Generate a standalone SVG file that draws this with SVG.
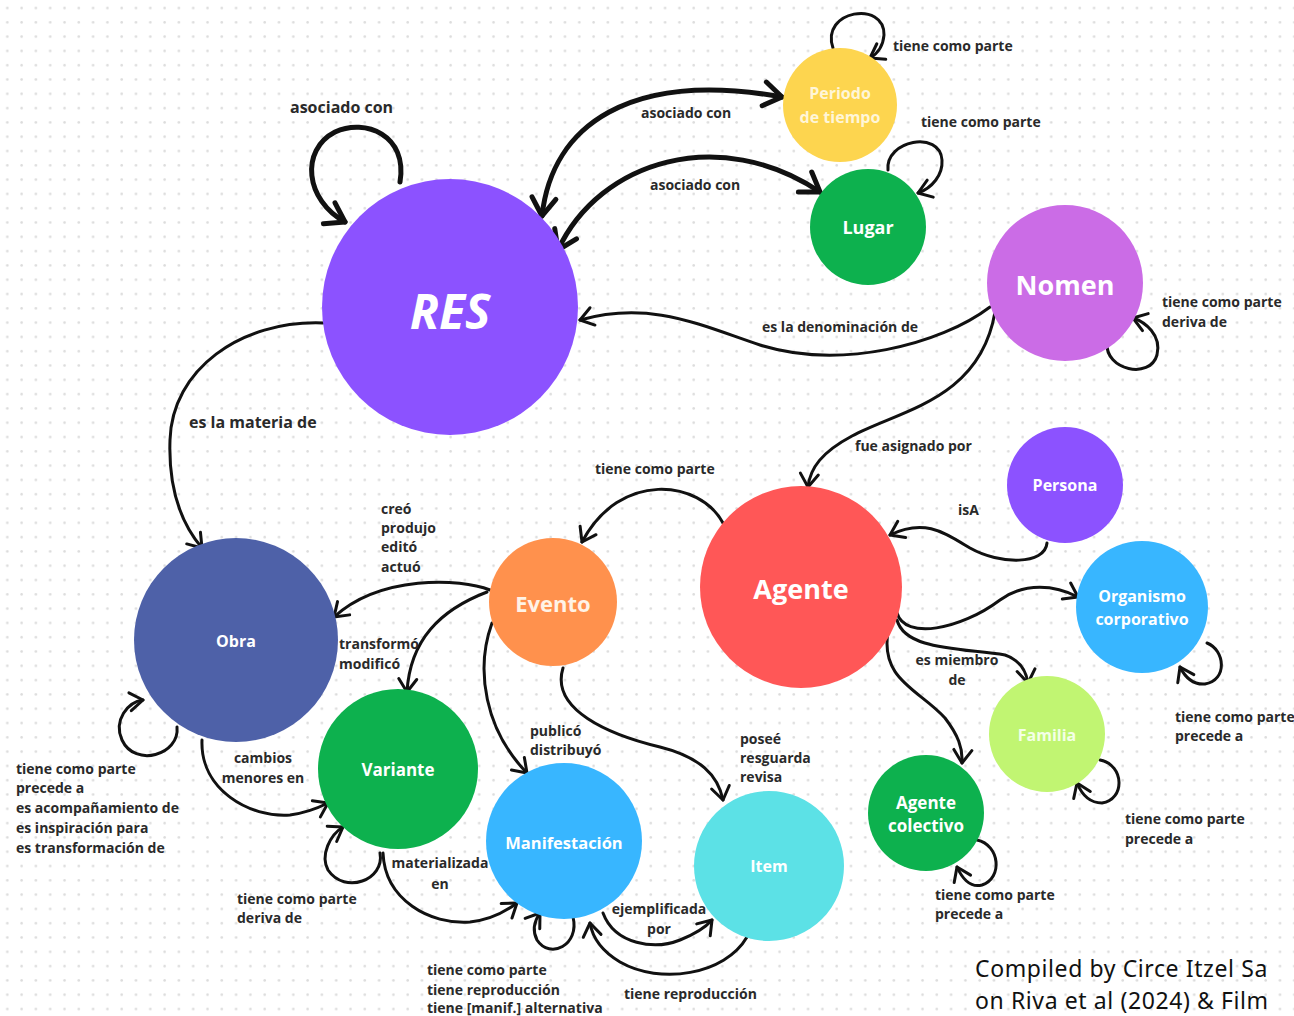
<svg xmlns="http://www.w3.org/2000/svg" width="1294" height="1016" viewBox="0 0 1294 1016">
  <defs>
    <pattern id="dots" patternUnits="userSpaceOnUse" x="0" y="0" width="14.3" height="14.3">
      <circle cx="7.3" cy="8" r="1.3" fill="#dcdcdc"/>
    </pattern>
    <marker id="arr" markerUnits="userSpaceOnUse" viewBox="-20 -15 24 30" markerWidth="24" markerHeight="30" refX="0" refY="0" orient="auto-start-reverse">
      <path d="M -13 -9 L 0 0 L -13 9" fill="none" stroke="#111" stroke-width="3" stroke-linecap="round" stroke-linejoin="round"/>
    </marker>
    <marker id="arrBig" markerUnits="userSpaceOnUse" viewBox="-24 -18 28 36" markerWidth="28" markerHeight="36" refX="0" refY="0" orient="auto-start-reverse">
      <path d="M -18 -12 L 0 0 L -18 12" fill="none" stroke="#111" stroke-width="5" stroke-linecap="round" stroke-linejoin="round"/>
    </marker>
    <style>
      .lbl { font-family: "Open Sans", "Noto Sans", sans-serif; font-weight: 700; font-size: 14px; fill: #2a2a2a; }
      .nt { font-family: "Open Sans", "Noto Sans", sans-serif; font-weight: 700; fill: #ffffff; text-anchor: middle; dominant-baseline: central; }
      .c { fill: none; stroke: #111; stroke-width: 3; stroke-linecap: round; marker-end: url(#arr); }
      .cb { fill: none; stroke: #111; stroke-width: 5; stroke-linecap: round; marker-end: url(#arrBig); }
      .cap { font-family: "Noto Sans", "Open Sans", sans-serif; font-size: 23px; letter-spacing: 0.6px; fill: #111; }
    </style>
  </defs>

  <rect width="1294" height="1016" fill="#ffffff"/>
  <rect width="1294" height="1016" fill="url(#dots)"/>

  <!-- connectors -->
  <g id="connectors">
    <path class="cb" d="M 400 182 C 408 135, 365 118, 335 132 C 300 150, 305 200, 345 222"/>
    <path class="cb" style="marker-start:url(#arrBig)" d="M 542 216 C 552 125, 630 70, 782 97"/>
    <path class="cb" style="marker-start:url(#arrBig)" d="M 558 250 C 600 160, 720 125, 820 192"/>
    <path class="c" d="M 833 48 C 820 10, 885 0, 884 35 C 883 47, 877 54, 870 58"/>
    <path class="c" d="M 888 170 C 885 140, 940 130, 942 160 C 943 175, 932 188, 918 193"/>
    <path class="c" d="M 1107 343 C 1105 370, 1150 380, 1157 355 C 1162 335, 1145 322, 1133 318"/>
    <path class="c" d="M 990 307 C 940 345, 840 370, 760 345 C 700 325, 650 300, 580 320"/>
    <path class="c" d="M 995 312 C 980 400, 900 410, 852 436 C 822 452, 810 468, 808 487"/>
    <path class="c" d="M 323 323 C 240 320, 172 370, 170 440 C 168 495, 185 528, 202 548"/>
    <path class="c" d="M 723 523 C 700 480, 620 470, 582 542"/>
    <path class="c" d="M 1047 543 C 1045 565, 1000 565, 970 548 C 945 533, 925 518, 890 535"/>
    <path class="c" d="M 897 613 C 905 640, 960 630, 1000 600 C 1025 582, 1055 585, 1078 597"/>
    <path class="c" d="M 897 620 C 905 650, 960 648, 1005 655 C 1020 660, 1026 670, 1028 683"/>
    <path class="c" d="M 888 632 C 880 680, 920 690, 945 718 C 958 735, 963 748, 962 763"/>
    <path class="c" d="M 1207 643 C 1225 650, 1228 680, 1205 684 C 1192 685, 1185 677, 1180 667"/>
    <path class="c" d="M 1100 760 C 1125 765, 1125 800, 1102 803 C 1090 803, 1082 795, 1077 783"/>
    <path class="c" d="M 977 840 C 1000 845, 1003 878, 982 885 C 970 888, 962 878, 957 867"/>
    <path class="c" d="M 490 590 C 460 578, 380 575, 334 617"/>
    <path class="c" d="M 487 592 C 440 610, 410 640, 407 692"/>
    <path class="c" d="M 492 623 C 475 670, 485 730, 527 773"/>
    <path class="c" d="M 563 668 C 550 710, 610 735, 660 747 C 700 757, 718 775, 723 800"/>
    <path class="c" d="M 177 727 C 180 755, 135 768, 122 740 C 113 720, 128 702, 143 700"/>
    <path class="c" d="M 202 740 C 200 790, 250 818, 290 815 C 305 813, 318 808, 328 803"/>
    <path class="c" d="M 380 853 C 385 880, 345 895, 328 870 C 320 855, 330 835, 343 827"/>
    <path class="c" d="M 383 853 C 385 900, 430 925, 470 922 C 490 920, 505 912, 517 903"/>
    <path class="c" d="M 573 917 C 580 945, 550 960, 537 940 C 532 930, 535 920, 540 913"/>
    <path class="c" d="M 603 913 C 615 945, 655 950, 680 940 C 695 934, 705 928, 712 920"/>
    <path class="c" d="M 747 937 C 725 975, 660 985, 620 962 C 600 950, 592 935, 590 923"/>
  </g>

  <!-- connector labels -->
  <g id="labels">
    <text class="lbl" x="290" y="113" style="font-size:16px">asociado con</text>
    <text class="lbl" x="641" y="118">asociado con</text>
    <text class="lbl" x="650" y="190">asociado con</text>
    <text class="lbl" x="893" y="51">tiene como parte</text>
    <text class="lbl" x="921" y="127">tiene como parte</text>
    <text class="lbl" x="1162" y="307">tiene como parte</text>
    <text class="lbl" x="1162" y="327">deriva de</text>
    <text class="lbl" x="762" y="332">es la denominación de</text>
    <text class="lbl" x="189" y="428" style="font-size:16px">es la materia de</text>
    <text class="lbl" x="855" y="451">fue asignado por</text>
    <text class="lbl" x="595" y="474">tiene como parte</text>
    <text class="lbl" x="958" y="515">isA</text>
    <text class="lbl" x="381" y="514">creó</text>
    <text class="lbl" x="381" y="533">produjo</text>
    <text class="lbl" x="381" y="552">editó</text>
    <text class="lbl" x="381" y="572">actuó</text>
    <text class="lbl" x="339" y="649">transformó</text>
    <text class="lbl" x="339" y="669">modificó</text>
    <text class="lbl" x="957" y="665" text-anchor="middle">es miembro</text>
    <text class="lbl" x="957" y="685" text-anchor="middle">de</text>
    <text class="lbl" x="1175" y="722">tiene como parte</text>
    <text class="lbl" x="1175" y="741">precede a</text>
    <text class="lbl" x="263" y="763" text-anchor="middle">cambios</text>
    <text class="lbl" x="263" y="783" text-anchor="middle">menores en</text>
    <text class="lbl" x="16" y="774">tiene como parte</text>
    <text class="lbl" x="16" y="793">precede a</text>
    <text class="lbl" x="16" y="813">es acompañamiento de</text>
    <text class="lbl" x="16" y="833">es inspiración para</text>
    <text class="lbl" x="16" y="853">es transformación de</text>
    <text class="lbl" x="530" y="736">publicó</text>
    <text class="lbl" x="530" y="755">distribuyó</text>
    <text class="lbl" x="740" y="744">poseé</text>
    <text class="lbl" x="740" y="763">resguarda</text>
    <text class="lbl" x="740" y="782">revisa</text>
    <text class="lbl" x="1125" y="824">tiene como parte</text>
    <text class="lbl" x="1125" y="844">precede a</text>
    <text class="lbl" x="440" y="868" text-anchor="middle">materializada</text>
    <text class="lbl" x="440" y="889" text-anchor="middle">en</text>
    <text class="lbl" x="237" y="904">tiene como parte</text>
    <text class="lbl" x="237" y="923">deriva de</text>
    <text class="lbl" x="659" y="914" text-anchor="middle">ejemplificada</text>
    <text class="lbl" x="659" y="934" text-anchor="middle">por</text>
    <text class="lbl" x="935" y="900">tiene como parte</text>
    <text class="lbl" x="935" y="919">precede a</text>
    <text class="lbl" x="427" y="975">tiene como parte</text>
    <text class="lbl" x="427" y="995">tiene reproducción</text>
    <text class="lbl" x="427" y="1013">tiene [manif.] alternativa</text>
    <text class="lbl" x="624" y="999">tiene reproducción</text>
  </g>

  <!-- nodes -->
  <g id="node-res">
    <circle cx="450" cy="307" r="128" fill="#8c52ff"/>
    <text class="nt" x="450" y="310" style="font-size:48px;font-style:italic">RES</text>
  </g>
  <g id="node-periodo">
    <circle cx="840" cy="105" r="57" fill="#fdd54f"/>
    <text class="nt" x="840" y="93" style="font-size:16px;fill:#fff6d8">Periodo</text>
    <text class="nt" x="840" y="117" style="font-size:16px;fill:#fff6d8">de tiempo</text>
  </g>
  <g id="node-lugar">
    <circle cx="868" cy="227" r="58" fill="#0db14e"/>
    <text class="nt" x="868" y="227" style="font-size:18px">Lugar</text>
  </g>
  <g id="node-nomen">
    <circle cx="1065" cy="283" r="78" fill="#cb6ce6"/>
    <text class="nt" x="1065" y="284" style="font-size:27px">Nomen</text>
  </g>
  <g id="node-persona">
    <circle cx="1065" cy="485" r="58" fill="#8c52ff"/>
    <text class="nt" x="1065" y="485" style="font-size:16px">Persona</text>
  </g>
  <g id="node-agente">
    <circle cx="801" cy="587" r="101" fill="#ff5757"/>
    <text class="nt" x="801" y="588" style="font-size:27px">Agente</text>
  </g>
  <g id="node-evento">
    <circle cx="553" cy="602" r="64" fill="#ff914d"/>
    <text class="nt" x="553" y="603" style="font-size:22px;fill:#fff3e6">Evento</text>
  </g>
  <g id="node-obra">
    <circle cx="236" cy="640" r="102" fill="#4e61a8"/>
    <text class="nt" x="236" y="641" style="font-size:16px">Obra</text>
  </g>
  <g id="node-variante">
    <circle cx="398" cy="769" r="80" fill="#0db14e"/>
    <text class="nt" x="398" y="769" style="font-size:17px">Variante</text>
  </g>
  <g id="node-manifestacion">
    <circle cx="564" cy="841" r="78" fill="#38b6ff"/>
    <text class="nt" x="564" y="842" style="font-size:16.5px">Manifestación</text>
  </g>
  <g id="node-item">
    <circle cx="769" cy="866" r="75" fill="#5ce1e6"/>
    <text class="nt" x="769" y="866" style="font-size:16px">Item</text>
  </g>
  <g id="node-organismo">
    <circle cx="1142" cy="607" r="66" fill="#38b6ff"/>
    <text class="nt" x="1142" y="596" style="font-size:16px">Organismo</text>
    <text class="nt" x="1142" y="619" style="font-size:16px">corporativo</text>
  </g>
  <g id="node-familia">
    <circle cx="1047" cy="734" r="58" fill="#c1f572"/>
    <text class="nt" x="1047" y="735" style="font-size:16px;fill:#f4ffe6">Familia</text>
  </g>
  <g id="node-agente-colectivo">
    <circle cx="926" cy="813" r="58" fill="#0db14e"/>
    <text class="nt" x="926" y="802" style="font-size:17px">Agente</text>
    <text class="nt" x="926" y="825" style="font-size:17px">colectivo</text>
  </g>

  <!-- credit line -->
  <g id="credit">
    <text class="cap" x="975" y="977">Compiled by Circe Itzel Sa</text>
    <text class="cap" x="975" y="1009">on Riva et al (2024) &amp; Film</text>
  </g>
</svg>
